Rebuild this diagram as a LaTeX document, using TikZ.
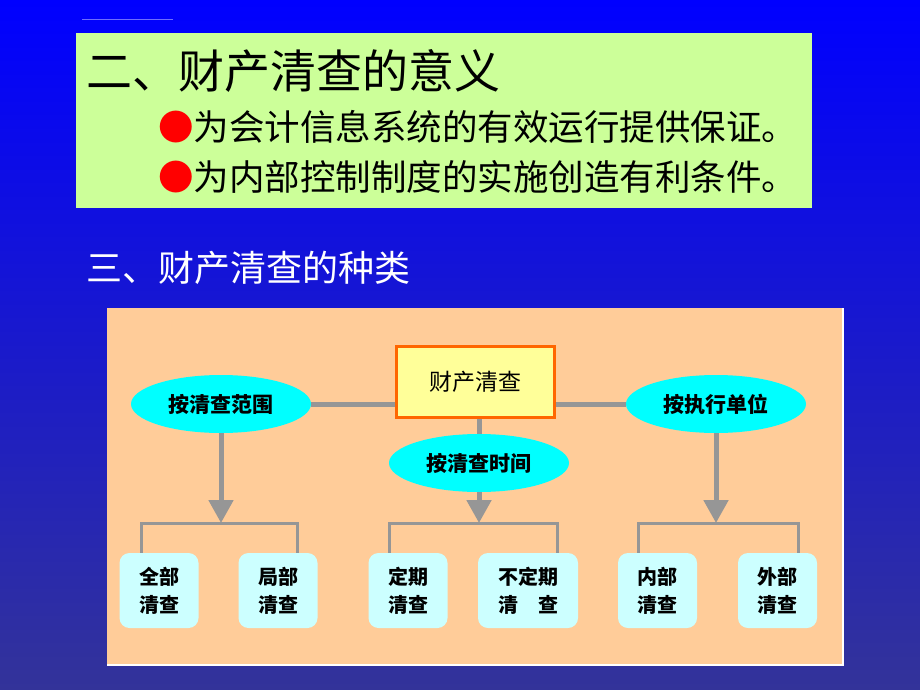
\documentclass[tikz,border=0pt]{standalone}
\usepackage{fontspec}
\setmainfont{Noto Sans CJK SC}
\usetikzlibrary{shapes.geometric,arrows.meta}
\definecolor{bgtop}{RGB}{0,0,255}
\definecolor{bgbot}{RGB}{51,51,153}
\definecolor{greenbox}{RGB}{204,255,153}
\definecolor{peach}{RGB}{255,204,153}
\definecolor{cyanfill}{RGB}{0,255,255}
\definecolor{leaffill}{RGB}{204,255,255}
\definecolor{yellowfill}{RGB}{255,255,153}
\definecolor{orangeline}{RGB}{255,102,0}
\definecolor{connector}{RGB}{150,150,150}
\definecolor{faint}{RGB}{110,110,255}
\begin{document}
\begin{tikzpicture}[x=1pt,y=-1pt,
  oval/.style={ellipse, fill=cyanfill, minimum width=180pt, minimum height=58pt, inner sep=0pt, font=\fontsize{21}{24}\selectfont\bfseries},
  leaf/.style={rounded corners=10pt, fill=leaffill, minimum width=79pt, minimum height=75pt, inner sep=0pt, align=center, font=\fontsize{20}{28}\selectfont\bfseries},
  rootbox/.style={draw=orangeline, line width=2.5pt, fill=yellowfill, minimum width=158pt, minimum height=71pt, inner sep=0pt, font=\fontsize{23}{26}\selectfont},
  link/.style={draw=connector, line width=5pt},
  arrowline/.style={draw=connector, line width=5pt, -{Triangle[length=23pt,width=24pt]}},
  bracket/.style={draw=connector, line width=3pt},
  textline/.style={anchor=west, inner sep=0pt}]
\useasboundingbox (0,0) rectangle (920,690);
\shade[top color=bgtop, bottom color=bgbot] (0,0) rectangle (920,690);
\draw[faint, line width=0.8pt] (82,19) -- (173,19);
% green box
\fill[greenbox] (76,33) rectangle (812,208);
\node[textline, font=\fontsize{46}{50}\selectfont] (t1) at (86,71) {二、财产清查的意义};
\node[textline, font=\fontsize{35.5}{40}\selectfont] (t2) at (158,127) {\textcolor{red}{●}为会计信息系统的有效运行提供保证。};
\node[textline, font=\fontsize{35.5}{40}\selectfont] (t3) at (158,177) {\textcolor{red}{●}为内部控制制度的实施创造有利条件。};
\node[textline, font=\fontsize{36}{40}\selectfont, text=white] (t4) at (86,268) {三、财产清查的种类};
% panel
\fill[peach] (107,308) rectangle (843,665);
\draw[white, line width=2pt] (843,308) -- (843,665) -- (107,665);
% nodes
\node[rootbox] (r) at (475.5,382) {财产清查};
\node[oval] (e1) at (221,404) {按清查范围};
\node[oval] (e2) at (479,463) {按清查时间};
\node[oval] (e3) at (716,404) {按执行单位};
\node[leaf] (l1) at (159,590.5) {全部\\清查};
\node[leaf] (l2) at (278,590.5) {局部\\清查};
\node[leaf] (l3) at (408,590.5) {定期\\清查};
\node[leaf, minimum width=100pt] (l4) at (528,590.5) {不定期\\清　查};
\node[leaf] (l5) at (657.5,590.5) {内部\\清查};
\node[leaf] (l6) at (777.5,590.5) {外部\\清查};
\coordinate (b1) at (221,523);
\coordinate (b2) at (479,523);
\coordinate (b3) at (716,523);
% connectors
\draw[link] (e1.east) -- (e1.east -| r.west);
\draw[link] (e3.west -| r.east) -- (e3.west);
\draw[link] (e2.north |- r.south) -- (e2.north);
\draw[bracket] ([xshift=-18pt]l1.north) |- (b1) -| ([xshift=19pt]l2.north);
\draw[bracket] ([xshift=-19pt]l3.north) |- (b2) -| ([xshift=29pt]l4.north);
\draw[bracket] ([xshift=-19.5pt]l5.north) |- (b3) -| ([xshift=20.5pt]l6.north);
\draw[arrowline] (e1.south) -- (b1);
\draw[arrowline] (e2.south) -- (b2);
\draw[arrowline] (e3.south) -- (b3);
\end{tikzpicture}
\end{document}
